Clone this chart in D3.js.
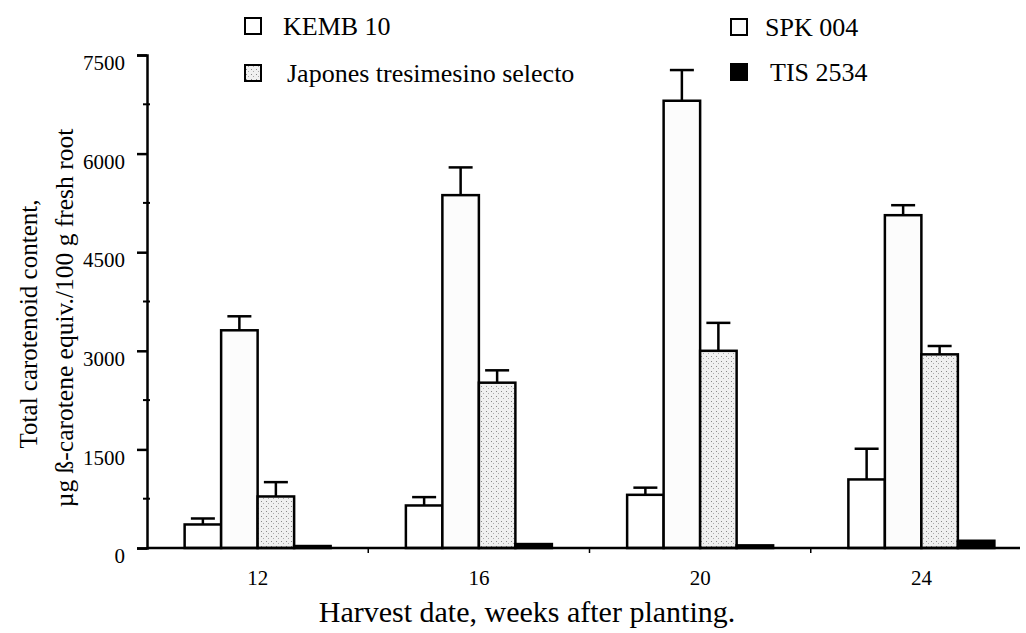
<!DOCTYPE html>
<html>
<head>
<meta charset="utf-8">
<script src="https://cdn.jsdelivr.net/npm/d3@7"></script>
<style>
  body { margin:0; background:#fff; }
  svg text { font-family:"Liberation Serif","Times New Roman",serif; fill:#000; }
</style>
</head>
<body>
<div id="chart"></div>
<script>
// harvest dates (weeks after planting)
var weeks = ["12","16","20","24"];
var seriesNames = ["KEMB 10","SPK 004","Japones tresimesino selecto","TIS 2534"];

// total carotenoid values, ug b-carotene equiv./100 g fresh root
var kemb = [358, 647, 809, 1043];
var spk = [3312, 5368, 6804, 5063];
var japones = [784, 2515, 3000, 2946];
var tis = [30, 60, 40, 110];

// upper error bar lengths
var kembErr = [91, 127, 109, 467];
var spkErr = [213, 422, 467, 152];
var japonesErr = [218, 188, 425, 127];
var tisErr = [0, 0, 0, 0];

var yTicks = [0,1500,3000,4500,6000,7500];
var yMinor = [750,2250,3750,5250,6750];

var allValues = [kemb, spk, japones, tis];
var allErrs = [kembErr, spkErr, japonesErr, tisErr];

var screen = {width:1026, height:633};

var svg = d3.select("#chart")
    .append("svg")
    .attr("width",screen.width)
    .attr("height",screen.height);

// patterns for the stippled bars
var defs = svg.append("defs");
var pat = defs.append("pattern")
    .attr("id","stipple")
    .attr("width",5).attr("height",5)
    .attr("patternUnits","userSpaceOnUse");
pat.append("rect").attr("width",5).attr("height",5).attr("fill","#f0f0f0");
pat.append("rect").attr("x",1).attr("y",1).attr("width",1).attr("height",1).attr("fill","#888");
pat.append("rect").attr("x",3).attr("y",3).attr("width",1).attr("height",1).attr("fill","#aaa");

var fills = ["#fff", "#fcfcfc", "url(#stipple)", "#000"];

var xScale = d3.scaleBand()
    .domain(weeks)
    .range([147, 1032]);

var inner = d3.scaleBand()
    .domain(seriesNames)
    .range([-73, 73]);

var yScale = d3.scaleLinear()
    .domain([0, 7500])
    .range([548, 55]);

// flatten into one table for drawing
var table = [];
weeks.forEach(function(w, i) {
    seriesNames.forEach(function(s, j) {
        table.push({week:w, series:s, idx:j, value:allValues[j][i], err:allErrs[j][i]});
    });
});

var bars = svg.append("g");
bars.selectAll("rect")
    .data(table)
    .enter()
    .append("rect")
    .attr("x", function(d){ return xScale(d.week) + xScale.bandwidth()/2 + inner(d.series); })
    .attr("y", function(d){ return yScale(d.value); })
    .attr("width", inner.bandwidth())
    .attr("height", function(d){ return yScale(0) - yScale(d.value); })
    .attr("fill", function(d){ return fills[d.idx]; })
    .attr("stroke","#000")
    .attr("stroke-width",2.5);

// error bars
var errs = svg.append("g")
    .attr("stroke","#000")
    .attr("stroke-width",2.5);
var withErr = table.filter(function(d){ return d.err > 0; });
var cx = function(d){ return xScale(d.week) + xScale.bandwidth()/2 + inner(d.series) + inner.bandwidth()/2; };
errs.selectAll("line.v")
    .data(withErr)
    .enter()
    .append("line")
    .attr("x1",cx).attr("x2",cx)
    .attr("y1",function(d){ return yScale(d.value); })
    .attr("y2",function(d){ return yScale(d.value + d.err); });
errs.selectAll("line.c")
    .data(withErr)
    .enter()
    .append("line")
    .attr("x1",function(d){ return cx(d) - 12; })
    .attr("x2",function(d){ return cx(d) + 12; })
    .attr("y1",function(d){ return yScale(d.value + d.err); })
    .attr("y2",function(d){ return yScale(d.value + d.err); });

// y axis
var yAxis = d3.axisLeft(yScale)
    .tickValues(yTicks)
    .tickFormat(d3.format("d"))
    .tickSizeOuter(0)
    .tickSize(10)
    .tickPadding(12);
var ya = svg.append("g")
    .attr("transform","translate(147,0)")
    .call(yAxis);
ya.select(".domain").attr("stroke-width",2.5);
ya.selectAll(".tick line").attr("stroke-width",2.5);
ya.selectAll(".tick text")
    .attr("font-size",21)
    .attr("dy","0.7em");
ya.selectAll("line.minor")
    .data(yMinor)
    .enter()
    .append("line")
    .attr("x1",-4).attr("x2",3)
    .attr("y1",function(d){ return yScale(d); })
    .attr("y2",function(d){ return yScale(d); })
    .attr("stroke","#000")
    .attr("stroke-width",2);

// x axis
svg.append("line")
    .attr("x1",147).attr("x2",1020)
    .attr("y1",yScale(0)).attr("y2",yScale(0))
    .attr("stroke","#000")
    .attr("stroke-width",2.5);
var xAxis = d3.axisBottom(xScale).tickSize(0).tickPadding(22);
var xa = svg.append("g")
    .attr("transform","translate(0,"+yScale(0)+")")
    .call(xAxis);
xa.select(".domain").remove();
xa.selectAll(".tick text").attr("font-size",21);

// small separators between groups
svg.selectAll("line.sep")
    .data(weeks.slice(1, 4))
    .enter()
    .append("line")
    .attr("x1",function(d){ return xScale(d); })
    .attr("x2",function(d){ return xScale(d); })
    .attr("y1",yScale(0)).attr("y2",yScale(0)+5)
    .attr("stroke","#000")
    .attr("stroke-width",1.5);

// axis titles
svg.append("text")
    .attr("x",527).attr("y",622)
    .attr("text-anchor","middle")
    .attr("font-size",30)
    .text("Harvest date, weeks after planting.");

svg.append("text")
    .attr("transform","translate(37,324) rotate(-90)")
    .attr("text-anchor","middle")
    .attr("font-size",25)
    .text("Total carotenoid content,");
svg.append("text")
    .attr("transform","translate(73,318) rotate(-90)")
    .attr("text-anchor","middle")
    .attr("font-size",25.5)
    .text("\u00b5g \u00df-carotene equiv./100 g fresh root");

// legend
var legendPos = [[245,26],[731,27],[245,73],[731,72]];
var legendGap = [38,34,42,39];
var legend = svg.append("g");
var items = legend.selectAll("g")
    .data(seriesNames)
    .enter()
    .append("g")
    .attr("transform",function(d,i){ return "translate("+legendPos[i][0]+","+legendPos[i][1]+")"; });
items.append("rect")
    .attr("x",0).attr("y",-8)
    .attr("width",16).attr("height",16)
    .attr("fill",function(d,i){ return fills[i]; })
    .attr("stroke","#000")
    .attr("stroke-width",2);
items.append("text")
    .attr("x",function(d,i){ return legendGap[i]; })
    .attr("dy","0.35em")
    .attr("font-size",26)
    .text(function(d){ return d; });
</script>
</body>
</html>
